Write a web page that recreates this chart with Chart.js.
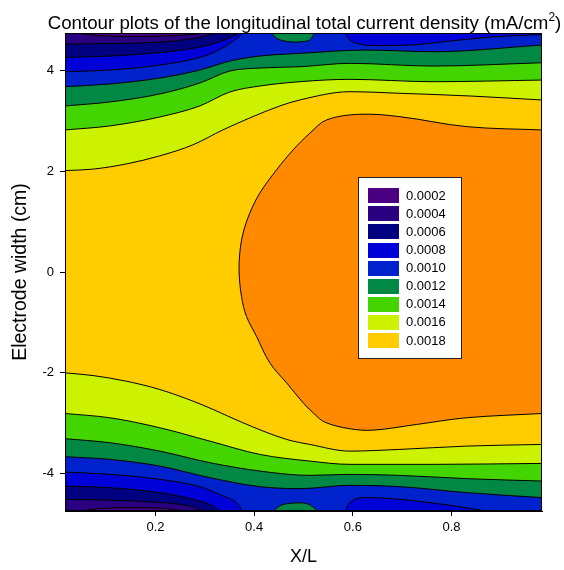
<!DOCTYPE html>
<html>
<head>
<meta charset="utf-8">
<script src="https://cdn.jsdelivr.net/npm/chart.js@4.4.1/dist/chart.umd.min.js"></script>
<style>
  html, body { margin: 0; padding: 0; background: #fff; }
</style>
</head>
<body>
<canvas id="chart" width="564" height="570"></canvas>
<script>
// contour levels (mA/cm^2) and their fill colours, as in the key
const levelLabels = ['0.0002', '0.0004', '0.0006', '0.0008', '0.0010', '0.0012', '0.0014', '0.0016', '0.0018'];
const levelColors = ['#4b0082', '#2b0080', '#000080', '#0000d8', '#0022cc', '#008844', '#44d400', '#ccf200', '#ffcc00'];
const coreColor = '#ff8a00';   // above 0.0018

const xTicks = [0.2, 0.4, 0.6, 0.8];
const yTicks = [-4, -2, 0, 2, 4];
const xRange = [0.0167, 0.9833];
const yRange = [-4.75, 4.75];

// contour lines in the upper half, [X/L, width]
const top18 = [[0.0167, 2.016], [0.0729, 2.044], [0.1418, 2.149], [0.2087, 2.308], [0.2756, 2.526], [0.3364, 2.823],
  [0.3912, 3.062], [0.4520, 3.300], [0.4925, 3.419], [0.5939, 3.583], [0.6952, 3.552], [0.8372, 3.498], [0.9833, 3.419]];
const top16 = [[0.0167, 2.823], [0.1074, 2.903], [0.2087, 3.081], [0.2898, 3.300], [0.3506, 3.577], [0.4114, 3.696],
  [0.4925, 3.782], [0.5939, 3.829], [0.7622, 3.782], [0.9833, 3.815]];
const top14 = [[0.0167, 3.300], [0.1074, 3.379], [0.2087, 3.538], [0.2898, 3.756], [0.3506, 3.994], [0.4114, 4.054],
  [0.4925, 4.079], [0.5939, 4.147], [0.7622, 4.093], [0.9833, 4.159]];
const top12 = [[0.0167, 3.683], [0.1074, 3.736], [0.2087, 3.855], [0.2898, 4.014], [0.3506, 4.192], [0.4114, 4.292],
  [0.4925, 4.345], [0.6278, 4.411], [0.7622, 4.377], [0.9833, 4.510]];
const topBump = [[0.4351, 4.75], [0.4453, 4.649], [0.4621, 4.589], [0.4790, 4.569], [0.4986, 4.579], [0.5128, 4.615], [0.5229, 4.75]];
const top10 = [[0.0167, 3.980], [0.1074, 4.014], [0.2087, 4.113], [0.2898, 4.262], [0.3203, 4.371], [0.3405, 4.480],
  [0.3547, 4.569], [0.3668, 4.658], [0.3770, 4.75]];
const topDip = [[0.5837, 4.75], [0.5939, 4.609], [0.6142, 4.530], [0.6547, 4.500], [0.7155, 4.510], [0.7966, 4.589],
  [0.8777, 4.669], [0.9833, 4.718]];
const top08 = [[0.0167, 4.266], [0.1074, 4.292], [0.2087, 4.361], [0.2898, 4.470], [0.3405, 4.609], [0.3709, 4.75]];
const top06 = [[0.0167, 4.530], [0.1074, 4.540], [0.2087, 4.569], [0.2695, 4.629], [0.2999, 4.688], [0.3243, 4.75]];
const top04 = [[0.0364, 4.75], [0.0871, 4.698], [0.1479, 4.679], [0.2087, 4.688], [0.2695, 4.718], [0.2999, 4.75]];

// contour lines in the lower half
const bot18 = [[0.0167, -2.004], [0.0735, -2.058], [0.1412, -2.171], [0.2087, -2.335], [0.2762, -2.567], [0.3168, -2.732],
  [0.3743, -2.984], [0.4656, -3.327], [0.5128, -3.427], [0.5939, -3.560], [0.6952, -3.526], [0.8305, -3.460], [0.9833, -3.427]];
const bot16 = [[0.0167, -2.812], [0.1074, -2.897], [0.2087, -3.095], [0.3101, -3.361], [0.4114, -3.625], [0.5128, -3.758],
  [0.5939, -3.823], [0.7622, -3.823], [0.9833, -3.804]];
const bot14 = [[0.0167, -3.313], [0.1074, -3.393], [0.2087, -3.560], [0.3101, -3.790], [0.4114, -3.956], [0.5128, -4.042],
  [0.5939, -4.022], [0.6952, -4.042], [0.8305, -4.107], [0.9833, -4.155]];
const bot12 = [[0.0167, -3.671], [0.1074, -3.724], [0.2087, -3.857], [0.3101, -4.087], [0.4114, -4.266], [0.4925, -4.306],
  [0.5939, -4.240], [0.6952, -4.266], [0.8305, -4.385], [0.9833, -4.484]];
const botBump = [[0.4398, -4.75], [0.4520, -4.647], [0.4723, -4.597], [0.4925, -4.587], [0.5128, -4.627], [0.5290, -4.75]];
const bot10 = [[0.0167, -3.976], [0.1074, -4.022], [0.2087, -4.121], [0.2898, -4.266], [0.3370, -4.452], [0.3642, -4.583], [0.3764, -4.75]];
const botDip = [[0.5837, -4.75], [0.5939, -4.583], [0.6278, -4.484], [0.6952, -4.518], [0.7966, -4.637], [0.8710, -4.75]];
const bot08 = [[0.0167, -4.254], [0.1074, -4.286], [0.2087, -4.385], [0.2762, -4.518], [0.3168, -4.651], [0.3303, -4.75]];
const bot06 = [[0.0167, -4.518], [0.1074, -4.534], [0.1884, -4.568], [0.2492, -4.617], [0.2796, -4.677], [0.2939, -4.75]];
const bot04 = [[0.0466, -4.75], [0.0871, -4.702], [0.1479, -4.683], [0.2087, -4.692], [0.2594, -4.75]];

// closed 0.0020 contour (orange core), traced from upper right round to lower right
const core = [[0.9833, 2.823], [0.8305, 2.889], [0.6952, 3.087], [0.6142, 3.135], [0.5467, 3.022], [0.5128, 2.758],
  [0.4790, 2.427], [0.4453, 2.030], [0.4114, 1.567], [0.3912, 1.171], [0.3776, 0.774], [0.3709, 0.377], [0.3695, 0.0],
  [0.3743, -0.484], [0.3844, -0.881], [0.4047, -1.278], [0.4317, -1.806], [0.4656, -2.202], [0.4992, -2.599],
  [0.5195, -2.798], [0.5432, -2.984], [0.5939, -3.115], [0.6411, -3.143], [0.7291, -3.030], [0.8305, -2.897], [0.9833, -2.812]];

// painted in this order, later ones on top
const layers = [
  [top18, 7, 'end'], [top16, 6, 'end'], [top14, 5, 'end'], [top12, 4, 'end'], [topBump, 5, 'end'],
  [top10, 3, 'end'], [topDip, 3, 'end'], [top08, 2, 'end'], [top06, 1, 'end'], [top04, 0, 'end'],
  [bot18, 7, 'start'], [bot16, 6, 'start'], [bot14, 5, 'start'], [bot12, 4, 'start'], [botBump, 5, 'start'],
  [bot10, 3, 'start'], [botDip, 3, 'start'], [bot08, 2, 'start'], [bot06, 1, 'start'], [bot04, 0, 'start'],
  [core, -1, 'shape']
];

const datasets = layers.map(([pts, lvl, fill], i) => ({
  data: pts.map(([x, y]) => ({ x, y })),
  backgroundColor: lvl < 0 ? coreColor : levelColors[lvl],
  borderColor: '#000',
  borderWidth: 1,
  pointRadius: 0,
  fill: fill,
  tension: fill === 'shape' ? 0.35 : 0,
  cubicInterpolationMode: fill === 'shape' ? 'default' : 'monotone',
  order: layers.length - i
}));

Chart.defaults.font.family = '"Liberation Sans", Arial, sans-serif';
Chart.defaults.color = '#000';

// gold band fills everything between the 0.0018 lines
const background = {
  id: 'background',
  beforeDatasetsDraw(chart) {
    const { ctx, chartArea: a } = chart;
    ctx.save();
    ctx.fillStyle = levelColors[8];
    ctx.fillRect(a.left, a.top, a.right - a.left, a.bottom - a.top);
    ctx.restore();
  }
};

// frame, key and title
const overlay = {
  id: 'overlay',
  afterDatasetsDraw(chart) {
    const { ctx, chartArea: a } = chart;
    ctx.save();
    ctx.strokeStyle = '#000';
    ctx.lineWidth = 1;
    ctx.strokeRect(a.left + 0.5, a.top + 0.5, a.right - a.left - 1, a.bottom - a.top - 1);

    const bx = 358, by = 177, bw = 103, bh = 181;
    ctx.fillStyle = '#fff';
    ctx.fillRect(bx, by, bw, bh);
    ctx.strokeStyle = '#222';
    ctx.strokeRect(bx + 0.5, by + 0.5, bw, bh);
    ctx.font = '13px "Liberation Sans", Arial, sans-serif';
    ctx.textBaseline = 'middle';
    ctx.textAlign = 'left';
    levelLabels.forEach((lab, i) => {
      const cy = 195.7 + i * 18.1;
      ctx.fillStyle = levelColors[i];
      ctx.fillRect(368, Math.round(cy - 7.5), 31, 15);
      ctx.fillStyle = '#000';
      ctx.fillText(lab, 406, cy + 0.5);
    });
    ctx.restore();
  },
  afterDraw(chart) {
    const { ctx, chartArea: a } = chart;
    ctx.save();
    ctx.fillStyle = '#000';
    ctx.textBaseline = 'alphabetic';
    const main = 'Contour plots of the longitudinal total current density (mA/cm';
    const big = '18.7px "Liberation Sans", Arial, sans-serif';
    const small = '12px "Liberation Sans", Arial, sans-serif';
    ctx.font = big;
    const w1 = ctx.measureText(main).width;
    const w3 = ctx.measureText(')').width;
    ctx.font = small;
    const w2 = ctx.measureText('2').width;
    const x0 = (a.left + a.right) / 2 - (w1 + w2 + w3) / 2 + 1;
    ctx.font = big;
    ctx.fillText(main, x0, 29);
    ctx.fillText(')', x0 + w1 + w2, 29);
    ctx.font = small;
    ctx.fillText('2', x0 + w1, 21);
    ctx.restore();
  }
};

new Chart(document.getElementById('chart'), {
  type: 'line',
  data: { datasets },
  plugins: [background, overlay],
  options: {
    responsive: false,
    animation: false,
    layout: { padding: { top: 33, right: 22, left: 0, bottom: 0 } },
    plugins: { legend: { display: false }, tooltip: { enabled: false }, title: { display: false } },
    scales: {
      x: {
        type: 'linear',
        min: xRange[0],
        max: xRange[1],
        afterBuildTicks: (s) => { s.ticks = xTicks.map(v => ({ value: v })); },
        afterFit: (s) => { s.height = 59; },
        ticks: { font: { size: 13 }, color: '#000', padding: 4, callback: (v) => v.toFixed(1) },
        grid: { drawOnChartArea: false, drawTicks: true, tickLength: 5, color: '#000' },
        border: { display: true, color: '#000' },
        title: { display: true, text: 'X/L', font: { size: 18, lineHeight: 1 }, color: '#000', padding: { top: 0, bottom: 4 } }
      },
      y: {
        type: 'linear',
        min: yRange[0],
        max: yRange[1],
        afterBuildTicks: (s) => { s.ticks = yTicks.map(v => ({ value: v })); },
        afterFit: (s) => { s.width = 65; },
        ticks: { font: { size: 13 }, color: '#000', padding: 6 },
        grid: { drawOnChartArea: false, drawTicks: true, tickLength: 5, color: '#000' },
        border: { display: true, color: '#000' },
        title: { display: true, text: 'Electrode width (cm)', font: { size: 19.5, lineHeight: 1 }, color: '#000', padding: { top: 11, bottom: 0 } }
      }
    }
  }
});
</script>
</body>
</html>
